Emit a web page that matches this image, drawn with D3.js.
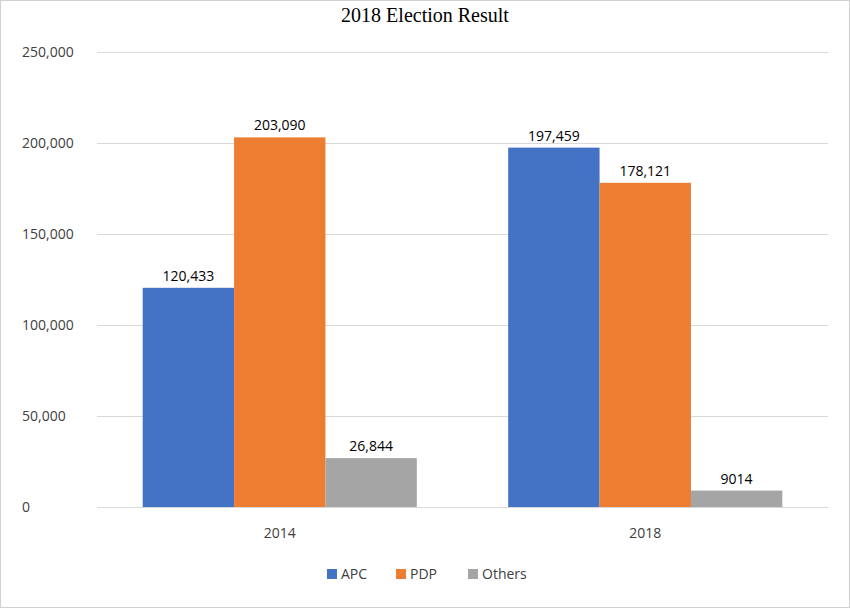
<!DOCTYPE html>
<html><head><meta charset="utf-8">
<script src="https://cdn.jsdelivr.net/npm/d3@7"></script>
<style>body{margin:0;background:#fff}text{font-family:"Open Sans","DejaVu Sans",sans-serif}</style>
</head><body>
<svg id="chart" width="850" height="608"></svg>
<script>
const years = ["2014", "2018"];
const parties = ["APC", "PDP", "Others"];
const apc = [120433, 197459];
const pdp = [203090, 178121];
const others = [26844, 9014];
const valueLabels = [["120,433", "203,090", "26,844"], ["197,459", "178,121", "9014"]];
const yTicks = [0, 50000, 100000, 150000, 200000, 250000];
const colors = ["#4472C4", "#ED7D31", "#A5A5A5"];

const series = [apc, pdp, others];
const svg = d3.select("#chart");
svg.append("rect").attr("x", 0.5).attr("y", 0.5).attr("width", 849).attr("height", 607)
  .attr("fill", "#fff").attr("stroke", "#d0d0d0");

const plotLeft = 97, plotRight = 828, plotTop = 52, plotBottom = 507;
const y = d3.scaleLinear().domain([0, 250000]).range([plotBottom, plotTop]);
const x0 = d3.scaleBand().domain(years).range([plotLeft, plotRight]).paddingInner(0.25).paddingOuter(0.125);
const x1 = d3.scaleBand().domain(parties).range([0, x0.bandwidth()]);

// gridlines
svg.append("g").selectAll("line").data(yTicks).join("line")
  .attr("x1", plotLeft).attr("x2", plotRight)
  .attr("y1", d => y(d) + 0.5).attr("y2", d => y(d) + 0.5)
  .attr("stroke", "#d9d9d9");

// y labels
svg.append("g").selectAll("text").data(yTicks).join("text")
  .attr("x", 22).attr("y", d => y(d) + 5)
  .attr("font-size", 14).attr("fill", "#404040")
  .text(d => d3.format(",")(d));

// bars
years.forEach((yr, i) => {
  const g = svg.append("g").attr("transform", `translate(${x0(yr)},0)`);
  g.selectAll("rect").data(parties).join("rect")
    .attr("x", p => x1(p)).attr("width", x1.bandwidth())
    .attr("y", (p, j) => y(series[j][i]))
    .attr("height", (p, j) => plotBottom - y(series[j][i]))
    .attr("fill", (p, j) => colors[j]);
  g.selectAll("text").data(parties).join("text")
    .attr("x", p => x1(p) + x1.bandwidth() / 2)
    .attr("y", (p, j) => y(series[j][i]) - 7)
    .attr("text-anchor", "middle").attr("font-size", 14).attr("fill", "#000")
    .text((p, j) => valueLabels[i][j]);
  svg.append("text").attr("x", x0(yr) + x0.bandwidth() / 2).attr("y", 538)
    .attr("text-anchor", "middle").attr("font-size", 14).attr("fill", "#404040").text(yr);
});

// title
svg.append("text").attr("x", 425).attr("y", 22).attr("text-anchor", "middle")
  .style("font-family", "'Liberation Serif', serif")
  .attr("font-size", 20).attr("fill", "#000").text("2018 Election Result");

// legend
const legendX = [327, 396, 468];
const lg = svg.append("g");
parties.forEach((p, i) => {
  lg.append("rect").attr("x", legendX[i]).attr("y", 569).attr("width", 10).attr("height", 10).attr("fill", colors[i]);
  lg.append("text").attr("x", legendX[i] + 14).attr("y", 579).attr("font-size", 14).attr("fill", "#404040").text(p);
});
</script>
</body></html>
